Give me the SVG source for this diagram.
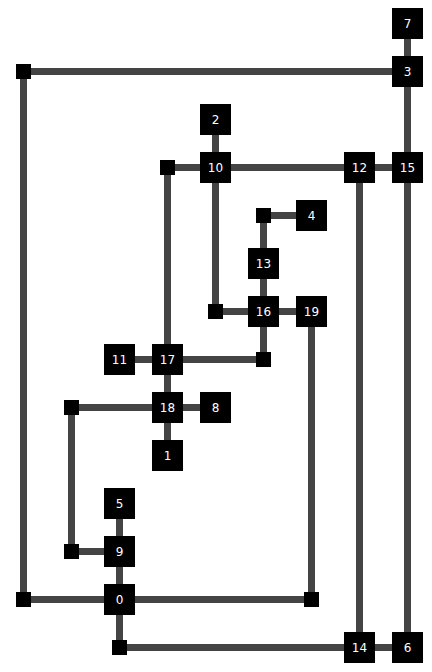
<svg xmlns="http://www.w3.org/2000/svg" width="432" height="672" viewBox="0 0 432 672">
<style>
.e{fill:none;stroke:#444444;stroke-width:7}
.n rect{fill:#000000}
.n text{fill:#ffffff;font-family:"DejaVu Sans",sans-serif;font-size:12px;text-anchor:middle;dominant-baseline:central}
.b{fill:#000000}
</style>
<rect width="432" height="672" fill="#ffffff"/>
<g id="connectors">
<path class="e" d="M407.5,23.5V71.5"/>
<path class="e" d="M407.5,71.5H23.5V599.5H119.5"/>
<path class="e" d="M407.5,71.5V167.5"/>
<path class="e" d="M215.5,119.5V167.5"/>
<path class="e" d="M167.5,359.5V167.5H407.5"/>
<path class="e" d="M215.5,167.5V311.5H263.5"/>
<path class="e" d="M359.5,167.5V647.5"/>
<path class="e" d="M407.5,167.5V647.5"/>
<path class="e" d="M311.5,215.5H263.5V311.5"/>
<path class="e" d="M263.5,311.5H311.5"/>
<path class="e" d="M311.5,311.5V599.5H119.5"/>
<path class="e" d="M263.5,311.5V359.5H167.5"/>
<path class="e" d="M119.5,359.5H167.5"/>
<path class="e" d="M167.5,359.5V455.5"/>
<path class="e" d="M167.5,407.5H215.5"/>
<path class="e" d="M167.5,407.5H71.5V551.5H119.5"/>
<path class="e" d="M119.5,503.5V599.5"/>
<path class="e" d="M119.5,599.5V647.5H407.5"/>
</g>
<g id="bends">
<rect class="b" x="16" y="64" width="15" height="15"/>
<rect class="b" x="160" y="160" width="15" height="15"/>
<rect class="b" x="256" y="208" width="15" height="15"/>
<rect class="b" x="208" y="304" width="15" height="15"/>
<rect class="b" x="256" y="352" width="15" height="15"/>
<rect class="b" x="64" y="400" width="15" height="15"/>
<rect class="b" x="64" y="544" width="15" height="15"/>
<rect class="b" x="16" y="592" width="15" height="15"/>
<rect class="b" x="304" y="592" width="15" height="15"/>
<rect class="b" x="112" y="640" width="15" height="15"/>
</g>
<g id="n7" class="n"><rect x="392" y="8" width="31" height="31"/><text x="407.5" y="23.5">7</text></g>
<g id="n3" class="n"><rect x="392" y="56" width="31" height="31"/><text x="407.5" y="71.5">3</text></g>
<g id="n2" class="n"><rect x="200" y="104" width="31" height="31"/><text x="215.5" y="119.5">2</text></g>
<g id="n10" class="n"><rect x="200" y="152" width="31" height="31"/><text x="215.5" y="167.5">10</text></g>
<g id="n12" class="n"><rect x="344" y="152" width="31" height="31"/><text x="359.5" y="167.5">12</text></g>
<g id="n15" class="n"><rect x="392" y="152" width="31" height="31"/><text x="407.5" y="167.5">15</text></g>
<g id="n4" class="n"><rect x="296" y="200" width="31" height="31"/><text x="311.5" y="215.5">4</text></g>
<g id="n13" class="n"><rect x="248" y="248" width="31" height="31"/><text x="263.5" y="263.5">13</text></g>
<g id="n16" class="n"><rect x="248" y="296" width="31" height="31"/><text x="263.5" y="311.5">16</text></g>
<g id="n19" class="n"><rect x="296" y="296" width="31" height="31"/><text x="311.5" y="311.5">19</text></g>
<g id="n11" class="n"><rect x="104" y="344" width="31" height="31"/><text x="119.5" y="359.5">11</text></g>
<g id="n17" class="n"><rect x="152" y="344" width="31" height="31"/><text x="167.5" y="359.5">17</text></g>
<g id="n18" class="n"><rect x="152" y="392" width="31" height="31"/><text x="167.5" y="407.5">18</text></g>
<g id="n8" class="n"><rect x="200" y="392" width="31" height="31"/><text x="215.5" y="407.5">8</text></g>
<g id="n1" class="n"><rect x="152" y="440" width="31" height="31"/><text x="167.5" y="455.5">1</text></g>
<g id="n5" class="n"><rect x="104" y="488" width="31" height="31"/><text x="119.5" y="503.5">5</text></g>
<g id="n9" class="n"><rect x="104" y="536" width="31" height="31"/><text x="119.5" y="551.5">9</text></g>
<g id="n0" class="n"><rect x="104" y="584" width="31" height="31"/><text x="119.5" y="599.5">0</text></g>
<g id="n14" class="n"><rect x="344" y="632" width="31" height="31"/><text x="359.5" y="647.5">14</text></g>
<g id="n6" class="n"><rect x="392" y="632" width="31" height="31"/><text x="407.5" y="647.5">6</text></g>
</svg>
